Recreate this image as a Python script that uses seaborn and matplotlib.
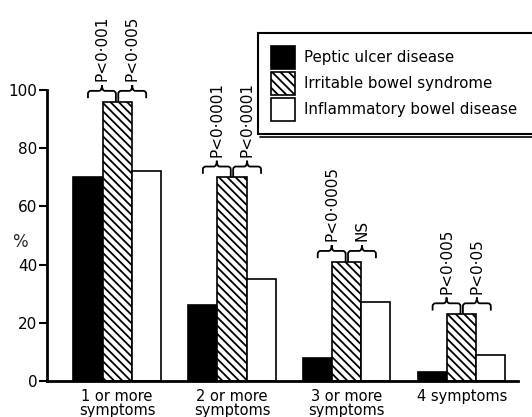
import matplotlib
matplotlib.use("Agg")
import matplotlib.pyplot as plt
import seaborn as sns
import pandas as pd
from matplotlib.path import Path
from matplotlib.patches import PathPatch, Patch
from matplotlib.lines import Line2D

# ---- data ----
categories = ["1 or more\nsymptoms", "2 or more\nsymptoms", "3 or more\nsymptoms", "4 symptoms"]
groups = ["Peptic ulcer disease", "Irritable bowel syndrome", "Inflammatory bowel disease"]
peptic = [70, 26, 8, 3]
ibs = [96, 70, 41, 23]
ibd = [72, 35, 27, 9]
left_p = ["P<0·001", "P<0·0001", "P<0·0005", "P<0·005"]
right_p = ["P<0·005", "P<0·0001", "NS", "P<0·05"]
yticks = [0, 20, 40, 60, 80, 100]

sns.set_theme(style="white")
plt.rcParams["font.family"] = ["DejaVu Sans"]
plt.rcParams["hatch.linewidth"] = 1.3
plt.rcParams["hatch.color"] = "black"

df = pd.DataFrame({
    "cat": categories * 3,
    "group": [g for g in groups for _ in categories],
    "val": peptic + ibs + ibd,
})

W, H = 532, 417
fig = plt.figure(figsize=(W / 100, H / 100), dpi=100)
ax = fig.add_axes([47 / W, (H - 381) / H, (518 - 47) / W, 291 / H])

sns.barplot(data=df, x="cat", y="val", hue="group", order=categories,
            hue_order=groups,
            palette={groups[0]: "black", groups[1]: "white", groups[2]: "white"},
            width=0.76, edgecolor="black", linewidth=1.2, saturation=1,
            errorbar=None, legend=False, ax=ax)

HATCH = "\\\\\\\\"
for bar in ax.containers[1]:
    bar.set_hatch(HATCH)

ax.set_xlim(-0.61, 3.49)
ax.set_ylim(0, 100)
ax.set_yticks(yticks)
ax.set_yticklabels([str(t) for t in yticks])
ax.set_xlabel("")
ax.set_ylabel("%", rotation=0, fontsize=12, va="center", ha="center")
ax.yaxis.set_label_coords(-0.057, 0.478)

for s in ["top", "right"]:
    ax.spines[s].set_visible(False)
for s in ["left", "bottom"]:
    ax.spines[s].set_linewidth(2)
    ax.spines[s].set_color("black")

ax.tick_params(axis="y", left=True, length=6, width=1.5, color="black",
               labelsize=11, pad=1)
ax.tick_params(axis="x", bottom=False, labelsize=10.5, pad=0)
for lab in ax.get_xticklabels():
    lab.set_linespacing(0.88)
    lab.set_color("black")
for lab in ax.get_yticklabels():
    lab.set_color("black")

# ---- significance braces ----
px_x = 4.1 / 471.0   # data units per pixel (x)
rx = 3 * px_x
ry = 1.0


def brace(xl, xr, ylb, yrb, yh, ytip):
    xm = (xl + xr) / 2
    verts = [
        (xl, ylb), (xl, yh - ry),
        (xl, yh), (xl + rx, yh),
        (xm - rx, yh),
        (xm, yh), (xm, ytip),
        (xm, yh), (xm + rx, yh),
        (xr - rx, yh),
        (xr, yh), (xr, yh - ry),
        (xr, yrb),
    ]
    codes = [Path.MOVETO, Path.LINETO,
             Path.CURVE3, Path.CURVE3,
             Path.LINETO,
             Path.CURVE3, Path.CURVE3,
             Path.CURVE3, Path.CURVE3,
             Path.LINETO,
             Path.CURVE3, Path.CURVE3,
             Path.LINETO]
    p = PathPatch(Path(verts, codes), fill=False, edgecolor="black",
                  linewidth=1.3, clip_on=False, capstyle="butt")
    ax.add_patch(p)
    return xm


for i in range(len(categories)):
    b0, b1, b2 = ax.containers[0][i], ax.containers[1][i], ax.containers[2][i]
    xa = b0.get_x() + b0.get_width() / 2
    xb = b1.get_x() + b1.get_width() / 2
    xc = b2.get_x() + b2.get_width() / 2
    top = b1.get_height()
    yh, ytip = top + 3.7, top + 5.7
    eps = 1.2 * px_x
    m1 = brace(xa, xb - eps, top + 1.2, top, yh, ytip)
    m2 = brace(xb + eps, xc, top, top + 1.2, yh, ytip)
    for xm, lab in [(m1, left_p[i]), (m2, right_p[i])]:
        ax.text(xm, top + 7.0, lab, rotation=90, ha="center", va="bottom",
                fontsize=11, color="black", clip_on=False)

# ---- legend (box runs off the right edge, as in the reference) ----
handles = [Patch(facecolor="black", edgecolor="black", linewidth=1.2),
           Patch(facecolor="white", edgecolor="black", hatch=HATCH, linewidth=1.2),
           Patch(facecolor="white", edgecolor="black", linewidth=1.2)]
leg = ax.legend(handles, groups, loc="upper left", mode="expand",
                bbox_to_anchor=(258 / W, 1 - 33 / H, (545 - 258) / W, 0),
                bbox_transform=fig.transFigure,
                frameon=True, fancybox=False, framealpha=1, edgecolor="black",
                borderaxespad=0, borderpad=0.85, handlelength=1.6, handleheight=2.0,
                handletextpad=0.65, labelspacing=0.2, fontsize=10.8)
leg.get_frame().set_linewidth(1.5)
for t in leg.get_texts():
    t.set_color("black")
fig.add_artist(Line2D([260 / W, 1.0], [1 - 137 / H, 1 - 137 / H],
                      transform=fig.transFigure, color="black", linewidth=1.2))

fig.savefig("out.png", dpi=100, facecolor="white")
